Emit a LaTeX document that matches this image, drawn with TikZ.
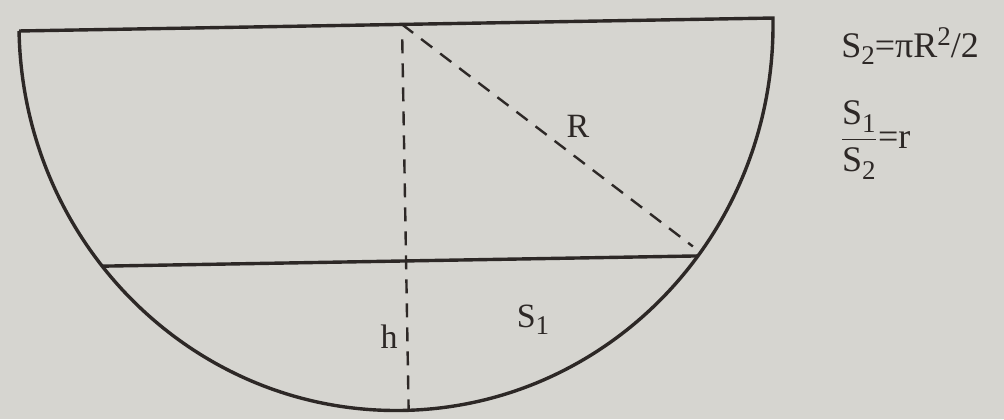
\documentclass[tikz,border=0pt]{standalone}
\usepackage{fontspec}
\setmainfont{Liberation Serif}
\newcommand\mysub[1]{\raisebox{-0.45ex}{\fontsize{13.5}{14}\selectfont #1}}
\newcommand\mysup[1]{\raisebox{0.75ex}{\fontsize{13.5}{14}\selectfont #1}}
\begin{document}
\begin{tikzpicture}[x=0.5pt,y=-0.5pt,
  solidline/.style={draw=ink,line width=1.7pt},
  dashline/.style={draw=ink,line width=1.2pt,dash pattern=on 7pt off 5pt},
  lbl/.style={text=ink,inner sep=0pt,font=\fontsize{17}{20}\selectfont},
  side/.style={text=ink,inner sep=0pt,font=\fontsize{18}{20}\selectfont}]
\definecolor{paper}{RGB}{214,213,208}
\definecolor{ink}{RGB}{45,40,38}
\fill[paper] (0,0) rectangle (1004,419);
\useasboundingbox (0,0) rectangle (1004,419);
\begin{scope}[shift={(396,24.5)},rotate=0.985]
  \coordinate (L) at (-377,0);
  \coordinate (Rr) at (377,0);
  \coordinate (T) at (6,0);
  \coordinate (B) at (6,386);
  \coordinate (CL) at (142.2:377 and 386);
  \coordinate (CR) at (37.8:377 and 386);
  \coordinate (RE) at (293,227);
  \draw[solidline,line join=miter] (L) -- (Rr) arc[start angle=0,end angle=180,x radius=377,y radius=386];
  \draw[solidline] (CL) -- (CR);
  \draw[dashline] ([yshift=-7.5pt]T) -- (B);
  \draw[dashline] (T) -- (RE);
\end{scope}
\node[lbl] (r) at (578,126) {R};
\node[lbl] (h) at (389,337) {h};
\node[lbl] (s1) at (533,320) {S\mysub{1}};
\node[side] (f1) at (910,46) {S\mysub{2}=πR\mysup{2}/2};
\node[side] (f2) at (875,140) {$\displaystyle\frac{\mbox{S\mysub{1}}}{\mbox{S\mysub{2}}}$\mbox{=r}};
\end{tikzpicture}
\end{document}
